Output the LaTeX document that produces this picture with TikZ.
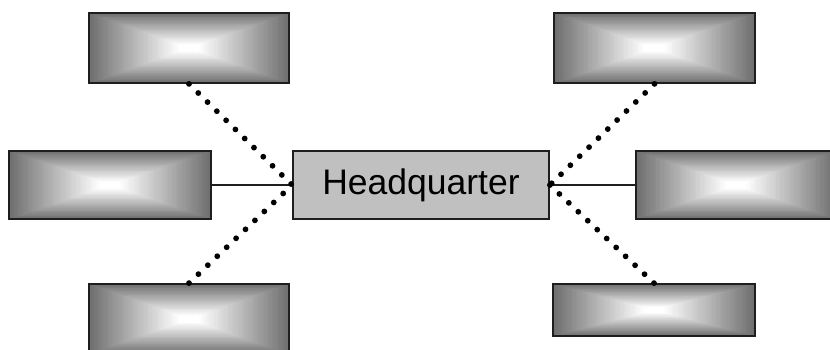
\documentclass[tikz,border=0pt]{standalone}
\usepackage{fontspec}
\setmainfont{Liberation Sans}
\usetikzlibrary{calc}
\definecolor{edgegray}{RGB}{112,112,112}
\definecolor{hqgray}{RGB}{192,192,192}
\definecolor{rim}{RGB}{30,30,30}

\begin{document}
\begin{tikzpicture}[x=1pt,y=-1pt]
\tikzstyle{every node}+=[inner sep=0pt]
\tikzstyle{pillow}=[draw=rim, line width=1.8pt, path picture={
  \foreach \i in {0,...,40} {
    \pgfmathsetmacro{\f}{1-\i/40}
    \pgfmathtruncatemacro{\w}{min(100,\i*2.8)}
    \fill [white!\w!edgegray]
      ($(path picture bounding box.center)!\f!(path picture bounding box.south west)$)
      rectangle
      ($(path picture bounding box.center)!\f!(path picture bounding box.north east)$);
  }}]
\tikzstyle{solidlink}=[rim, line width=1.3pt]
\tikzstyle{dotlink}=[black, line width=5.8pt, line cap=round, dash pattern=on 0pt off 13pt]
\useasboundingbox (0,0) rectangle (830,349);
% centre
\node [draw=rim, line width=1.8pt, fill=hqgray, minimum width=256, minimum height=68,
  font=\fontsize{35.5}{40}\selectfont] (hq) at (421,185) {Headquarter};
% branches
\node [pillow, minimum width=200, minimum height=70] (tl) at (189,48) {};
\node [pillow, minimum width=201, minimum height=70] (tr) at (654.5,48) {};
\node [pillow, minimum width=202, minimum height=68] (ml) at (110,185) {};
\node [pillow, minimum width=200, minimum height=68] (mr) at (736,185) {};
\node [pillow, minimum width=200, minimum height=70] (bl) at (189,319) {};
\node [pillow, minimum width=202, minimum height=52] (br) at (654,310) {};
% links
\draw [solidlink] (ml.east) -- (hq.west);
\draw [solidlink] (hq.east) -- (mr.west);
\draw [dotlink] (tl.south) -- (hq.west);
\draw [dotlink] (bl.north) -- (hq.west);
\draw [dotlink] (tr.south) -- (hq.east);
\draw [dotlink] (br.north) -- (hq.east);
\end{tikzpicture}
\end{document}
